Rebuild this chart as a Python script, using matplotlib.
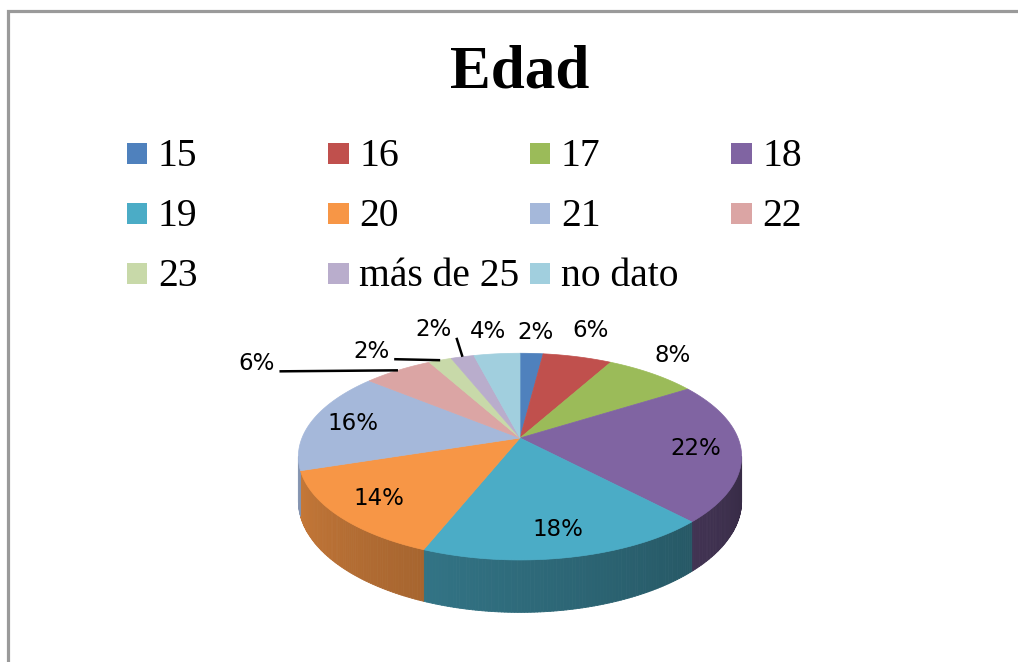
import numpy as np
import matplotlib
matplotlib.use('Agg')
import matplotlib.pyplot as plt
from matplotlib.patches import Polygon, Rectangle
from matplotlib.collections import PolyCollection
from matplotlib.colors import to_rgb

# ---------------- data ----------------
title = 'Edad'
categories = ['15', '16', '17', '18', '19', '20', '21', '22', '23', 'más de 25', 'no dato']
values = [2, 6, 8, 22, 18, 14, 16, 6, 2, 2, 4]
colors = ['#4F81BD', '#C0504D', '#9BBB59', '#8064A2', '#4BACC6', '#F79646',
          '#A5B8DA', '#DBA5A4', '#C8D9A9', '#B9ADCC', '#A1CFDE']

# ---------------- layout ----------------
W, H = 1018, 662
fig = plt.figure(figsize=(W / 100, H / 100), dpi=100)
ax = fig.add_axes([0, 0, 1, 1])
ax.set_xlim(0, W)
ax.set_ylim(H, 0)
ax.axis('off')

# chart border (top and left visible)
ax.plot([8, 8, W + 5], [H + 5, 10.5, 10.5], color='#9a9a9a', lw=2.3,
        solid_joinstyle='miter', clip_on=False)

ax.text(519.5, 88, title, fontsize=44, fontweight='bold', family='Liberation Serif',
        ha='center', va='baseline')

# legend (row-wise, 4 columns)
leg_x0, leg_y0, col_w, row_h, sq = 127, 143, 201.5, 60, 20.5
for i, (cat, col) in enumerate(zip(categories, colors)):
    r, c = divmod(i, 4)
    x = leg_x0 + c * col_w
    y = leg_y0 + r * row_h
    ax.add_patch(Rectangle((x, y), sq, sq, facecolor=col, edgecolor='none'))
    ax.text(x + 31, y + 23.5, cat, fontsize=28.5, family='Liberation Serif',
            ha='left', va='baseline')

# ---------------- 3D pie ----------------
CX, CY = 520, 438
RX, RY = 218, 100
K = 0.18
DEPTH = 43


def proj(phi_deg, r=1.0):
    p = np.radians(phi_deg)
    s = 1 + K * r * np.cos(p)
    return CX + RX * r * np.sin(p) / s, CY - RY * r * np.cos(p) / s


def depth(phi_deg):
    return DEPTH / (1 + K * np.cos(np.radians(phi_deg)))


total = float(sum(values))
bounds = np.concatenate([[0], np.cumsum(values)]) / total * 360.0
phi_r = np.degrees(np.arccos(-K))
phi_l = 360 - phi_r

# side walls
quads, qcols = [], []
for i, col in enumerate(colors):
    a, b = max(bounds[i], phi_r), min(bounds[i + 1], phi_l)
    if b <= a:
        continue
    n = max(2, int((b - a) / 0.7))
    ph = np.linspace(a, b, n + 1)
    base = np.array(to_rgb(col))
    for p0, p1 in zip(ph[:-1], ph[1:]):
        x0, y0 = proj(p0)
        x1, y1 = proj(p1)
        quads.append([(x0, y0), (x1, y1), (x1, y1 + depth(p1)), (x0, y0 + depth(p0))])
        pm = 0.5 * (p0 + p1)
        f = np.clip(0.42 + 0.40 * (pm - 100) / 160, 0.35, 0.85)
        qcols.append(tuple(base * f))
ax.add_collection(PolyCollection(quads, facecolors=qcols, edgecolors=qcols, linewidths=0.6))

# top face
for i, col in enumerate(colors):
    ph = np.linspace(bounds[i], bounds[i + 1], max(3, int(values[i] * 4)))
    pts = [(CX, CY)] + [proj(p) for p in ph]
    ax.add_patch(Polygon(pts, closed=True, facecolor=col, edgecolor=col, lw=0.5))

# data labels
label_font = dict(fontsize=16.5, family='DejaVu Sans', ha='center', va='center')
outside_offsets = {0: (4, -21), 1: (13.5, -26), 2: (21, -18.5), 10: (-9, -22),
                   9: (-29, -27), 8: (-69, -9), 7: (-141.5, -7)}
leader = {7, 8, 9}
for i, v in enumerate(values):
    mid = 0.5 * (bounds[i] + bounds[i + 1])
    txt = f'{v}%'
    if i in outside_offsets:
        ex, ey = proj(mid)
        dx, dy = outside_offsets[i]
        lx, ly = ex + dx, ey + dy
        ax.text(lx, ly, txt, **label_font)
        if i in leader:
            ax.plot([lx + 23, ex], [ly + 8, ey], color='black', lw=1.8,
                    solid_capstyle='butt')
    else:
        lx, ly = proj(mid, 0.8)
        ax.text(lx, ly, txt, **label_font)

fig.savefig('out.png', dpi=100)
